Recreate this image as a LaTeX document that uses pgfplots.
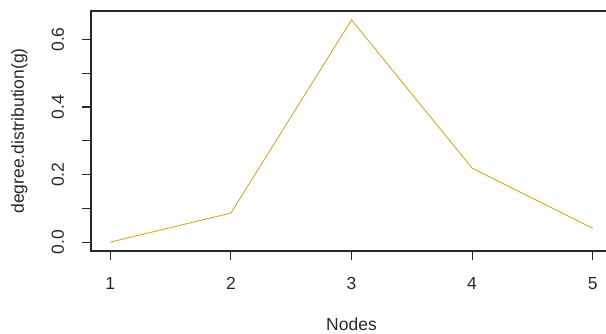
\documentclass[border=0pt]{standalone}
\usepackage{fontspec}
\setmainfont{Liberation Sans}
\usepackage{pgfplots}
\pgfplotsset{compat=1.18}
\definecolor{gold}{RGB}{218,168,40}
\definecolor{axgray}{RGB}{40,40,40}
\begin{document}
\fontsize{17.5}{21}\selectfont
\begin{tikzpicture}
\clip (-91pt,-82pt) rectangle (515pt,251pt);
\begin{axis}[
  at={(0,0)}, anchor=south west,
  scale only axis, width=521pt, height=240pt,
  xmin=0.84, xmax=5.16, ymin=-0.02632, ymax=0.68432,
  axis line style={axgray, line width=1.3pt},
  every tick/.style={axgray, line width=1.1pt},
  tick align=outside, major tick length=9pt,
  xtick={1,2,3,4,5},
  ytick={0,0.1,0.2,0.3,0.4,0.5,0.6},
  yticklabels={0.0,,0.2,,0.4,,0.6},
  xticklabels={1,2,3,4,5},
  xtick pos=bottom, ytick pos=left,
  xticklabel shift=11pt, yticklabel shift=12pt,
  /pgf/number format/assume math mode=true,
  xticklabel style={font=\fontsize{17.5}{21}\selectfont, text=axgray},
  yticklabel style={font=\fontsize{17.5}{21}\selectfont, text=axgray, rotate=90, anchor=south},
  xlabel={Nodes}, ylabel={degree.distribution(g)},
  every axis x label/.style={at={(axis description cs:0.5,0)}, anchor=base, yshift=-79pt, font=\fontsize{17.5}{21}\selectfont, text=axgray},
  every axis y label/.style={at={(axis description cs:0,0.5)}, xshift=-67pt, rotate=90, anchor=base, font=\fontsize{17.5}{21}\selectfont, text=axgray},
]
\addplot[gold, line width=0.9pt, no marks] coordinates {
  (1,0.0) (2,0.086) (3,0.658) (4,0.219) (5,0.041)
};
\end{axis}
\end{tikzpicture}
\end{document}
